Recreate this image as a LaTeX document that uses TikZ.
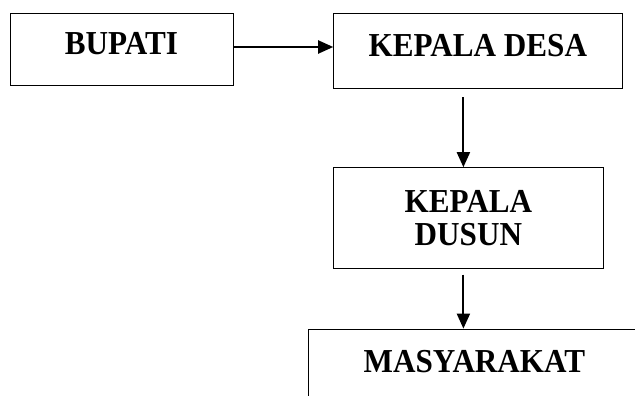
\documentclass[tikz,border=0pt]{standalone}
\usepackage{fontspec}
\setmainfont{Liberation Serif}[FakeStretch=0.93]
\usetikzlibrary{positioning, arrows.meta}
\tikzset{
	>={Triangle[length=15pt,width=13pt]}, % filled arrow heads
	line width=1.7pt, % thick lines everywhere
	box/.style={draw, rectangle, inner sep=0pt, align=center,
		font=\bfseries\fontsize{33.5}{33}\selectfont,
		text height=22pt, text depth=10pt}, % sets the properties for each box
	link/.style={->, line width=2pt}, % the arrows between the boxes
}

\begin{document}
\begin{tikzpicture}
	\useasboundingbox (0pt,0pt) rectangle (635pt,-396pt);
	
	% boxes
	\node[box, minimum width=223pt, minimum height=72pt] (bupati) at (121.5pt,-49pt) {BUPATI};
	\node[box, minimum width=289pt, minimum height=75pt, right=100pt of bupati, yshift=-1.5pt] (desa) {KEPALA DESA};
	\node[box, minimum width=270pt, minimum height=101pt, text height=, text depth=, below=79pt of desa, xshift=-9.5pt] (dusun) {KEPALA\\DUSUN};
	\node[box, minimum width=332pt, minimum height=75pt, below=60pt of dusun, xshift=6pt] (masyarakat) {MASYARAKAT};
	
	% arrows
	\draw[link] ([yshift=2pt]bupati.east) -- ([yshift=2pt]bupati.east -| desa.west);
	\draw[link] ([xshift=-5pt,yshift=-9pt]dusun.north |- desa.south) -- ([xshift=-5pt]dusun.north);
	\draw[link] ([xshift=-5pt,yshift=-6pt]dusun.south) -- ([xshift=-5pt]dusun.south |- masyarakat.north);
	
\end{tikzpicture}
\end{document}
